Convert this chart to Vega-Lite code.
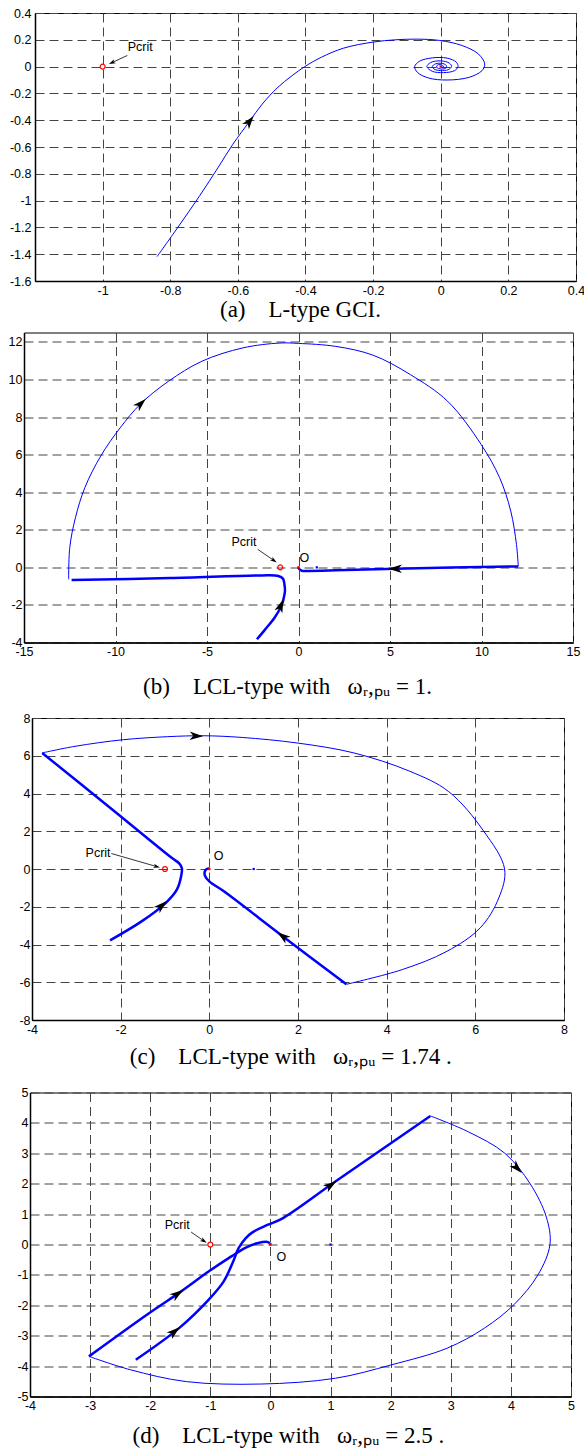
{
  "$schema": "https://vega.github.io/schema/vega-lite/v6.json",
  "background": "white",
  "padding": {"left": 0, "top": 6, "right": 0, "bottom": 0},
  "spacing": 9.5,
  "bounds": "full",
  "config": {
    "view": {"stroke": "#000", "strokeWidth": 1},
    "axis": {
      "grid": true, "gridDash": [9, 5], "gridColor": "#444", "gridWidth": 1,
      "ticks": false, "domain": true, "domainColor": "#000", "domainWidth": 1.5,
      "labelFont": "Liberation Sans", "labelFontSize": 12.5, "labelColor": "#000",
      "labelFlush": false, "labelOverlap": false, "labelPadding": 3,
      "labelExpr": "datum.value + ''",
      "titleFont": "Liberation Serif", "titleFontSize": 23, "titleFontWeight": "normal", "titleColor": "#000"
    }
  },
  "datasets": {
    "a": [
      {"k":"thin","i":1,"x":-0.839,"y":-1.418},{"k":"thin","i":2,"x":-0.779,"y":-1.205},{"k":"thin","i":3,"x":-0.714,"y":-0.968},
      {"k":"thin","i":4,"x":-0.659,"y":-0.755},{"k":"thin","i":5,"x":-0.615,"y":-0.58},{"k":"thin","i":6,"x":-0.566,"y":-0.41},
      {"k":"thin","i":7,"x":-0.528,"y":-0.28},{"k":"thin","i":8,"x":-0.484,"y":-0.16},{"k":"thin","i":9,"x":-0.44,"y":-0.068},
      {"k":"thin","i":10,"x":-0.402,"y":0},{"k":"thin","i":11,"x":-0.353,"y":0.07},{"k":"thin","i":12,"x":-0.287,"y":0.138},
      {"k":"thin","i":13,"x":-0.2,"y":0.183},{"k":"thin","i":14,"x":-0.134,"y":0.2},{"k":"thin","i":15,"x":-0.069,"y":0.205},
      {"k":"thin","i":16,"x":-0.003,"y":0.195},{"k":"thin","i":17,"x":0.062,"y":0.158},{"k":"thin","i":18,"x":0.111,"y":0.095},
      {"k":"thin","i":19,"x":0.13,"y":0.02},{"k":"thin","i":20,"x":0.122,"y":-0.03},{"k":"thin","i":21,"x":0.084,"y":-0.08},
      {"k":"thin","i":22,"x":0.019,"y":-0.1},{"k":"thin","i":23,"x":-0.036,"y":-0.085},{"k":"thin","i":24,"x":-0.069,"y":-0.043},
      {"k":"thin","i":25,"x":-0.077,"y":0},{"k":"thin","i":26,"x":-0.063,"y":0.04},{"k":"thin","i":27,"x":-0.025,"y":0.065},
      {"k":"thin","i":28,"x":0.019,"y":0.063},{"k":"thin","i":29,"x":0.046,"y":0.033},{"k":"thin","i":30,"x":0.051,"y":0},
      {"k":"thin","i":31,"x":0.041,"y":-0.03},{"k":"thin","i":32,"x":0.008,"y":-0.045},{"k":"thin","i":33,"x":-0.025,"y":-0.035},
      {"k":"thin","i":34,"x":-0.041,"y":0},{"k":"thin","i":35,"x":-0.03,"y":0.03},{"k":"thin","i":36,"x":0,"y":0.043},
      {"k":"thin","i":37,"x":0.026,"y":0.025},{"k":"thin","i":38,"x":0.032,"y":0},{"k":"thin","i":39,"x":0.022,"y":-0.023},
      {"k":"thin","i":40,"x":0,"y":-0.03},{"k":"thin","i":41,"x":-0.02,"y":-0.018},{"k":"thin","i":42,"x":-0.025,"y":0},
      {"k":"thin","i":43,"x":-0.016,"y":0.02},{"k":"thin","i":44,"x":0.002,"y":0.025},{"k":"thin","i":45,"x":0.016,"y":0.01},
      {"k":"thin","i":46,"x":0.016,"y":-0.01},{"k":"thin","i":47,"x":0.002,"y":-0.018},{"k":"thin","i":48,"x":-0.012,"y":-0.005},
      {"k":"thin","i":49,"x":-0.009,"y":0.013},{"k":"thin","i":50,"x":0.005,"y":0.01},{"k":"thin","i":51,"x":0.008,"y":-0.005},
      {"k":"thin","i":52,"x":0,"y":0},
      {"k":"arrow","x":-0.566,"y":-0.41,"dir":37},
      {"k":"pcrit","x":-1,"y":0},
      {"k":"origin","x":0,"y":0},
      {"k":"label","x":-0.889,"y":0.145,"t":"Pcrit"},
      {"k":"pointer","x":-0.927,"y":0.083,"x2":-0.972,"y2":0.03},
      {"k":"phead","x":-0.972,"y":0.03,"dir":245}
    ],
    "b": [
      {"k":"thin","i":1,"x":-12.56,"y":-0.64},{"k":"thin","i":2,"x":-12.5,"y":1.05},{"k":"thin","i":3,"x":-12.19,"y":2.64},
      {"k":"thin","i":4,"x":-11.68,"y":4.23},{"k":"thin","i":5,"x":-10.81,"y":5.92},{"k":"thin","i":6,"x":-9.75,"y":7.42},
      {"k":"thin","i":7,"x":-8.63,"y":8.7},{"k":"thin","i":8,"x":-7.11,"y":9.9},{"k":"thin","i":9,"x":-5.28,"y":10.97},
      {"k":"thin","i":10,"x":-3.04,"y":11.68},{"k":"thin","i":11,"x":-1.01,"y":11.94},{"k":"thin","i":12,"x":0,"y":11.92},
      {"k":"thin","i":13,"x":2.04,"y":11.76},{"k":"thin","i":14,"x":4.08,"y":11.29},{"k":"thin","i":15,"x":6.11,"y":10.26},
      {"k":"thin","i":16,"x":8.15,"y":8.84},{"k":"thin","i":17,"x":9.98,"y":6.54},{"k":"thin","i":18,"x":10.99,"y":4.77},
      {"k":"thin","i":19,"x":11.6,"y":2.99},{"k":"thin","i":20,"x":11.91,"y":1.22},{"k":"thin","i":21,"x":12.01,"y":0.07},
      {"k":"thick","s":1,"i":1,"x":12.01,"y":0.05},{"k":"thick","s":1,"i":2,"x":5.3,"y":-0.07},{"k":"thick","s":1,"i":3,"x":2.04,"y":-0.16},
      {"k":"thick","s":1,"i":4,"x":0.5,"y":-0.19},{"k":"thick","s":1,"i":5,"x":0.18,"y":-0.18},{"k":"thick","s":1,"i":6,"x":0.04,"y":-0.09},
      {"k":"thick","s":1,"i":7,"x":0,"y":0},
      {"k":"thick","s":2,"i":1,"x":-12.4,"y":-0.67},{"k":"thick","s":2,"i":2,"x":-7,"y":-0.57},{"k":"thick","s":2,"i":3,"x":-2.02,"y":-0.43},
      {"k":"thick","s":2,"i":4,"x":-1.1,"y":-0.46},{"k":"thick","s":2,"i":5,"x":-0.85,"y":-0.6},{"k":"thick","s":2,"i":6,"x":-0.77,"y":-0.9},
      {"k":"thick","s":2,"i":7,"x":-0.74,"y":-1.26},{"k":"thick","s":2,"i":8,"x":-0.8,"y":-1.6},{"k":"thick","s":2,"i":9,"x":-0.9,"y":-1.97},
      {"k":"thick","s":2,"i":10,"x":-1.31,"y":-2.68},{"k":"thick","s":2,"i":11,"x":-1.82,"y":-3.3},{"k":"thick","s":2,"i":12,"x":-2.27,"y":-3.83},
      {"k":"arrow","x":-8.63,"y":8.7,"dir":46},
      {"k":"arrow","x":5.3,"y":-0.07,"dir":270},
      {"k":"arrow","x":-0.97,"y":-2.05,"dir":22},
      {"k":"pcrit","x":-1,"y":0},
      {"k":"origin","x":0,"y":0},
      {"k":"unit","x":1,"y":0},
      {"k":"label","x":-2.98,"y":1.36,"t":"Pcrit"},
      {"k":"label","x":0.32,"y":0.48,"t":"O"},
      {"k":"pointer","x":-2.23,"y":0.96,"x2":-1.35,"y2":0.37},
      {"k":"phead","x":-1.35,"y":0.37,"dir":125}
    ],
    "c": [
      {"k":"thin","i":1,"x":-3.77,"y":6.15},{"k":"thin","i":2,"x":-3.03,"y":6.5},{"k":"thin","i":3,"x":-1.94,"y":6.85},
      {"k":"thin","i":4,"x":-0.94,"y":7.01},{"k":"thin","i":5,"x":-0.14,"y":7.06},{"k":"thin","i":6,"x":0.74,"y":6.97},
      {"k":"thin","i":7,"x":2.0,"y":6.67},{"k":"thin","i":8,"x":3.26,"y":6.15},{"k":"thin","i":9,"x":4.52,"y":5.18},
      {"k":"thin","i":10,"x":5.4,"y":4.1},{"k":"thin","i":11,"x":6.19,"y":2.0},{"k":"thin","i":12,"x":6.66,"y":0},
      {"k":"thin","i":13,"x":6.53,"y":-1.53},{"k":"thin","i":14,"x":6.11,"y":-3.12},{"k":"thin","i":15,"x":5.36,"y":-4.36},
      {"k":"thin","i":16,"x":4.35,"y":-5.33},{"k":"thin","i":17,"x":3.09,"y":-6.11},
      {"k":"thick","s":1,"i":1,"x":3.09,"y":-6.11},{"k":"thick","s":1,"i":2,"x":1.66,"y":-3.57},{"k":"thick","s":1,"i":3,"x":0.32,"y":-1.17},
      {"k":"thick","s":1,"i":4,"x":0.0,"y":-0.66},{"k":"thick","s":1,"i":5,"x":-0.1,"y":-0.35},{"k":"thick","s":1,"i":6,"x":-0.1,"y":-0.12},
      {"k":"thick","s":1,"i":7,"x":-0.06,"y":0.0},{"k":"thick","s":1,"i":8,"x":0,"y":0.02},
      {"k":"thick","s":2,"i":1,"x":-3.77,"y":6.15},{"k":"thick","s":2,"i":2,"x":-2.19,"y":3.15},{"k":"thick","s":2,"i":3,"x":-0.85,"y":0.59},
      {"k":"thick","s":2,"i":4,"x":-0.68,"y":0.3},{"k":"thick","s":2,"i":5,"x":-0.62,"y":0.05},{"k":"thick","s":2,"i":6,"x":-0.63,"y":-0.3},
      {"k":"thick","s":2,"i":7,"x":-0.73,"y":-1.08},{"k":"thick","s":2,"i":8,"x":-0.98,"y":-1.79},{"k":"thick","s":2,"i":9,"x":-1.52,"y":-2.76},
      {"k":"thick","s":2,"i":10,"x":-2.24,"y":-3.78},
      {"k":"arrow","x":-0.3,"y":7.05,"dir":92},
      {"k":"arrow","x":1.66,"y":-3.57,"dir":307},
      {"k":"arrow","x":-1.08,"y":-1.95,"dir":48},
      {"k":"pcrit","x":-1,"y":0},
      {"k":"origin","x":0,"y":0},
      {"k":"unit","x":1,"y":0},
      {"k":"label","x":-2.51,"y":0.86,"t":"Pcrit"},
      {"k":"label","x":0.21,"y":0.68,"t":"O"},
      {"k":"pointer","x":-2.21,"y":0.82,"x2":-1.19,"y2":0.13},
      {"k":"phead","x":-1.19,"y":0.13,"dir":106}
    ],
    "d": [
      {"k":"thin","i":1,"x":-3.02,"y":-3.68},{"k":"thin","i":2,"x":-2.33,"y":-4.12},{"k":"thin","i":3,"x":-1.4,"y":-4.51},
      {"k":"thin","i":4,"x":-0.16,"y":-4.59},{"k":"thin","i":5,"x":1.08,"y":-4.4},{"k":"thin","i":6,"x":2.01,"y":-3.96},
      {"k":"thin","i":7,"x":2.94,"y":-3.41},{"k":"thin","i":8,"x":3.56,"y":-2.75},{"k":"thin","i":9,"x":4.05,"y":-1.98},
      {"k":"thin","i":10,"x":4.45,"y":-1.0},{"k":"thin","i":11,"x":4.65,"y":0},{"k":"thin","i":12,"x":4.59,"y":0.9},
      {"k":"thin","i":13,"x":4.32,"y":2.0},{"k":"thin","i":14,"x":3.9,"y":3.0},{"k":"thin","i":15,"x":3.3,"y":3.7},
      {"k":"thin","i":16,"x":2.66,"y":4.23},
      {"k":"thick","s":1,"i":1,"x":-2.24,"y":-3.79},{"k":"thick","s":1,"i":2,"x":-1.52,"y":-2.75},{"k":"thick","s":1,"i":3,"x":-1.03,"y":-1.82},
      {"k":"thick","s":1,"i":4,"x":-0.78,"y":-1.22},{"k":"thick","s":1,"i":5,"x":-0.62,"y":-0.56},{"k":"thick","s":1,"i":6,"x":-0.53,"y":-0.12},
      {"k":"thick","s":1,"i":7,"x":-0.41,"y":0.21},{"k":"thick","s":1,"i":8,"x":-0.3,"y":0.4},{"k":"thick","s":1,"i":9,"x":-0.04,"y":0.65},
      {"k":"thick","s":1,"i":10,"x":0.21,"y":0.87},{"k":"thick","s":1,"i":11,"x":1.08,"y":2.07},{"k":"thick","s":1,"i":12,"x":2.66,"y":4.23},
      {"k":"thick","s":2,"i":1,"x":-3.02,"y":-3.68},{"k":"thick","s":2,"i":2,"x":-2.02,"y":-2.26},{"k":"thick","s":2,"i":3,"x":-1.49,"y":-1.55},
      {"k":"thick","s":2,"i":4,"x":-1.03,"y":-0.89},{"k":"thick","s":2,"i":5,"x":-0.65,"y":-0.39},{"k":"thick","s":2,"i":6,"x":-0.41,"y":-0.1},
      {"k":"thick","s":2,"i":7,"x":-0.22,"y":0.04},{"k":"thick","s":2,"i":8,"x":-0.04,"y":0.08},{"k":"thick","s":2,"i":9,"x":0,"y":0},
      {"k":"arrow","x":4.1,"y":2.52,"dir":136},
      {"k":"arrow","x":1.0,"y":1.95,"dir":55},
      {"k":"arrow","x":-1.6,"y":-2.87,"dir":50},
      {"k":"arrow","x":-1.55,"y":-1.63,"dir":55},
      {"k":"pcrit","x":-1,"y":0},
      {"k":"origin","x":0,"y":0},
      {"k":"unit","x":1,"y":0},
      {"k":"label","x":-1.55,"y":0.65,"t":"Pcrit"},
      {"k":"label","x":0.18,"y":-0.42,"t":"O"},
      {"k":"pointer","x":-1.32,"y":0.41,"x2":-1.11,"y2":0.12},
      {"k":"phead","x":-1.11,"y":0.12,"dir":123}
    ]
  },
  "vconcat": [
    {"spacing": 0, "hconcat": [
    {"width": 7.5, "height": 1, "data": {"values": []}, "mark": "point", "view": {"stroke": null}},
    {
      "width": 541, "height": 268,
      "data": {"name": "a"},
      "encoding": {
        "x": {"field": "x", "type": "quantitative", "scale": {"domain": [-1.2, 0.4], "nice": false, "zero": false},
              "axis": {"values": [-1, -0.8, -0.6, -0.4, -0.2, 0, 0.2, 0.4], "title": "(a)\u00a0\u00a0\u00a0\u00a0L-type GCI.", "titlePadding": 2, "titleX": 184.5, "titleAlign": "left"}},
        "y": {"field": "y", "type": "quantitative", "scale": {"domain": [-1.6, 0.4], "nice": false, "zero": false},
              "axis": {"values": [-1.6, -1.4, -1.2, -1, -0.8, -0.6, -0.4, -0.2, 0, 0.2, 0.4], "title": null, "labelPadding": 4}}
      },
      "layer": [
        {"transform": [{"filter": "datum.k === 'thin'"}], "mark": {"type": "line", "color": "#0000ff", "strokeWidth": 1, "interpolate": "catmull-rom"}, "encoding": {"order": {"field": "i", "type": "quantitative"}}},
        {"transform": [{"filter": "datum.k === 'arrow'"}], "mark": {"type": "point", "shape": "M0,-1L0.6,0.9L0,0.4L-0.6,0.9Z", "filled": true, "color": "#000", "opacity": 1, "size": 200}, "encoding": {"angle": {"field": "dir", "type": "quantitative", "scale": null}}},
        {"transform": [{"filter": "datum.k === 'pointer'"}], "mark": {"type": "rule", "color": "#000", "strokeWidth": 0.8}, "encoding": {"x2": {"field": "x2"}, "y2": {"field": "y2"}}},
        {"transform": [{"filter": "datum.k === 'phead'"}], "mark": {"type": "point", "shape": "M0,-1L0.6,0.9L0,0.4L-0.6,0.9Z", "filled": true, "color": "#000", "opacity": 1, "size": 50}, "encoding": {"angle": {"field": "dir", "type": "quantitative", "scale": null}}},
        {"transform": [{"filter": "datum.k === 'pcrit'"}], "mark": {"type": "point", "shape": "circle", "filled": false, "color": "#ff0000", "size": 24, "strokeWidth": 1.2, "opacity": 1}},
        {"transform": [{"filter": "datum.k === 'origin'"}], "mark": {"type": "point", "shape": "square", "filled": true, "color": "#ff0000", "size": 6, "opacity": 1}},
        {"transform": [{"filter": "datum.k === 'label'"}], "mark": {"type": "text", "font": "Liberation Sans", "fontSize": 12.5, "color": "#000", "align": "center", "baseline": "middle"}, "encoding": {"text": {"field": "t"}}}
      ]
    }]},
    {"spacing": 0, "hconcat": [
    {"width": 6.1, "height": 1, "data": {"values": []}, "mark": "point", "view": {"stroke": null}},
    {
      "width": 549, "height": 310,
      "data": {"name": "b"},
      "encoding": {
        "x": {"field": "x", "type": "quantitative", "scale": {"domain": [-15, 15], "nice": false, "zero": false},
              "axis": {"values": [-15, -10, -5, 0, 5, 10, 15], "title": "(b)\u00a0\u00a0\u00a0\u00a0LCL-type with\u00a0\u00a0\u00a0ω\u1d63,\u209a\u1d64 = 1.", "titlePadding": 17, "titleX": 118.6, "titleAlign": "left"}},
        "y": {"field": "y", "type": "quantitative", "scale": {"domain": [-4, 12.5], "nice": false, "zero": false},
              "axis": {"values": [-4, -2, 0, 2, 4, 6, 8, 10, 12], "title": null, "labelPadding": 2}}
      },
      "layer": [
        {"transform": [{"filter": "datum.k === 'thin'"}], "mark": {"type": "line", "color": "#0000ff", "strokeWidth": 1, "interpolate": "catmull-rom"}, "encoding": {"order": {"field": "i", "type": "quantitative"}}},
        {"transform": [{"filter": "datum.k === 'thick'"}], "mark": {"type": "line", "color": "#0000ff", "strokeWidth": 2.5, "interpolate": "catmull-rom"}, "encoding": {"detail": {"field": "s", "type": "nominal"}, "order": {"field": "i", "type": "quantitative"}}},
        {"transform": [{"filter": "datum.k === 'arrow'"}], "mark": {"type": "point", "shape": "M0,-1L0.6,0.9L0,0.4L-0.6,0.9Z", "filled": true, "color": "#000", "opacity": 1, "size": 200}, "encoding": {"angle": {"field": "dir", "type": "quantitative", "scale": null}}},
        {"transform": [{"filter": "datum.k === 'pointer'"}], "mark": {"type": "rule", "color": "#000", "strokeWidth": 0.8}, "encoding": {"x2": {"field": "x2"}, "y2": {"field": "y2"}}},
        {"transform": [{"filter": "datum.k === 'phead'"}], "mark": {"type": "point", "shape": "M0,-1L0.6,0.9L0,0.4L-0.6,0.9Z", "filled": true, "color": "#000", "opacity": 1, "size": 50}, "encoding": {"angle": {"field": "dir", "type": "quantitative", "scale": null}}},
        {"transform": [{"filter": "datum.k === 'pcrit'"}], "mark": {"type": "point", "shape": "circle", "filled": false, "color": "#ff0000", "size": 24, "strokeWidth": 1.2, "opacity": 1}},
        {"transform": [{"filter": "datum.k === 'origin'"}], "mark": {"type": "point", "shape": "square", "filled": true, "color": "#ff0000", "size": 6, "opacity": 1}},
        {"transform": [{"filter": "datum.k === 'unit'"}], "mark": {"type": "point", "shape": "square", "filled": true, "color": "#0000ff", "size": 5, "opacity": 1}},
        {"transform": [{"filter": "datum.k === 'label'"}], "mark": {"type": "text", "font": "Liberation Sans", "fontSize": 12.5, "color": "#000", "align": "center", "baseline": "middle"}, "encoding": {"text": {"field": "t"}}}
      ]
    }]},
    {"spacing": 0, "hconcat": [
    {"width": 17.9, "height": 1, "data": {"values": []}, "mark": "point", "view": {"stroke": null}},
    {
      "width": 532, "height": 302,
      "title": {"text": "\u00a0", "fontSize": 1, "offset": 2},
      "data": {"name": "c"},
      "encoding": {
        "x": {"field": "x", "type": "quantitative", "scale": {"domain": [-4, 8], "nice": false, "zero": false},
              "axis": {"values": [-4, -2, 0, 2, 4, 6, 8], "title": "(c)\u00a0\u00a0\u00a0\u00a0LCL-type with\u00a0\u00a0\u00a0ω\u1d63,\u209a\u1d64 = 1.74 .", "titlePadding": 10.2, "titleX": 97.3, "titleAlign": "left"}},
        "y": {"field": "y", "type": "quantitative", "scale": {"domain": [-8, 8], "nice": false, "zero": false},
              "axis": {"values": [-8, -6, -4, -2, 0, 2, 4, 6, 8], "title": null, "labelPadding": 2}}
      },
      "layer": [
        {"transform": [{"filter": "datum.k === 'thin'"}], "mark": {"type": "line", "color": "#0000ff", "strokeWidth": 1, "interpolate": "catmull-rom"}, "encoding": {"order": {"field": "i", "type": "quantitative"}}},
        {"transform": [{"filter": "datum.k === 'thick'"}], "mark": {"type": "line", "color": "#0000ff", "strokeWidth": 2.5, "interpolate": "catmull-rom"}, "encoding": {"detail": {"field": "s", "type": "nominal"}, "order": {"field": "i", "type": "quantitative"}}},
        {"transform": [{"filter": "datum.k === 'arrow'"}], "mark": {"type": "point", "shape": "M0,-1L0.6,0.9L0,0.4L-0.6,0.9Z", "filled": true, "color": "#000", "opacity": 1, "size": 200}, "encoding": {"angle": {"field": "dir", "type": "quantitative", "scale": null}}},
        {"transform": [{"filter": "datum.k === 'pointer'"}], "mark": {"type": "rule", "color": "#000", "strokeWidth": 0.8}, "encoding": {"x2": {"field": "x2"}, "y2": {"field": "y2"}}},
        {"transform": [{"filter": "datum.k === 'phead'"}], "mark": {"type": "point", "shape": "M0,-1L0.6,0.9L0,0.4L-0.6,0.9Z", "filled": true, "color": "#000", "opacity": 1, "size": 50}, "encoding": {"angle": {"field": "dir", "type": "quantitative", "scale": null}}},
        {"transform": [{"filter": "datum.k === 'pcrit'"}], "mark": {"type": "point", "shape": "circle", "filled": false, "color": "#ff0000", "size": 24, "strokeWidth": 1.2, "opacity": 1}},
        {"transform": [{"filter": "datum.k === 'origin'"}], "mark": {"type": "point", "shape": "square", "filled": true, "color": "#ff0000", "size": 6, "opacity": 1}},
        {"transform": [{"filter": "datum.k === 'unit'"}], "mark": {"type": "point", "shape": "square", "filled": true, "color": "#0000ff", "size": 5, "opacity": 1}},
        {"transform": [{"filter": "datum.k === 'label'"}], "mark": {"type": "text", "font": "Liberation Sans", "fontSize": 12.5, "color": "#000", "align": "center", "baseline": "middle"}, "encoding": {"text": {"field": "t"}}}
      ]
    }]},
    {"spacing": 0, "hconcat": [
    {"width": 15.9, "height": 1, "data": {"values": []}, "mark": "point", "view": {"stroke": null}},
    {
      "width": 541, "height": 304,
      "title": {"text": "\u00a0", "fontSize": 1, "offset": 5.5},
      "data": {"name": "d"},
      "encoding": {
        "x": {"field": "x", "type": "quantitative", "scale": {"domain": [-4, 5], "nice": false, "zero": false},
              "axis": {"values": [-4, -3, -2, -1, 0, 1, 2, 3, 4, 5], "title": "(d)\u00a0\u00a0\u00a0\u00a0LCL-type with\u00a0\u00a0\u00a0ω\u1d63,\u209a\u1d64 = 2.5 .", "titlePadding": 12, "titleX": 102, "titleAlign": "left"}},
        "y": {"field": "y", "type": "quantitative", "scale": {"domain": [-5, 5], "nice": false, "zero": false},
              "axis": {"values": [-5, -4, -3, -2, -1, 0, 1, 2, 3, 4, 5], "title": null, "labelPadding": 2}}
      },
      "layer": [
        {"transform": [{"filter": "datum.k === 'thin'"}], "mark": {"type": "line", "color": "#0000ff", "strokeWidth": 1, "interpolate": "catmull-rom"}, "encoding": {"order": {"field": "i", "type": "quantitative"}}},
        {"transform": [{"filter": "datum.k === 'thick'"}], "mark": {"type": "line", "color": "#0000ff", "strokeWidth": 2.5, "interpolate": "catmull-rom"}, "encoding": {"detail": {"field": "s", "type": "nominal"}, "order": {"field": "i", "type": "quantitative"}}},
        {"transform": [{"filter": "datum.k === 'arrow'"}], "mark": {"type": "point", "shape": "M0,-1L0.6,0.9L0,0.4L-0.6,0.9Z", "filled": true, "color": "#000", "opacity": 1, "size": 200}, "encoding": {"angle": {"field": "dir", "type": "quantitative", "scale": null}}},
        {"transform": [{"filter": "datum.k === 'pointer'"}], "mark": {"type": "rule", "color": "#000", "strokeWidth": 0.8}, "encoding": {"x2": {"field": "x2"}, "y2": {"field": "y2"}}},
        {"transform": [{"filter": "datum.k === 'phead'"}], "mark": {"type": "point", "shape": "M0,-1L0.6,0.9L0,0.4L-0.6,0.9Z", "filled": true, "color": "#000", "opacity": 1, "size": 50}, "encoding": {"angle": {"field": "dir", "type": "quantitative", "scale": null}}},
        {"transform": [{"filter": "datum.k === 'pcrit'"}], "mark": {"type": "point", "shape": "circle", "filled": false, "color": "#ff0000", "size": 24, "strokeWidth": 1.2, "opacity": 1}},
        {"transform": [{"filter": "datum.k === 'origin'"}], "mark": {"type": "point", "shape": "square", "filled": true, "color": "#ff0000", "size": 6, "opacity": 1}},
        {"transform": [{"filter": "datum.k === 'unit'"}], "mark": {"type": "point", "shape": "square", "filled": true, "color": "#0000ff", "size": 5, "opacity": 1}},
        {"transform": [{"filter": "datum.k === 'label'"}], "mark": {"type": "text", "font": "Liberation Sans", "fontSize": 12.5, "color": "#000", "align": "center", "baseline": "middle"}, "encoding": {"text": {"field": "t"}}}
      ]
    }]}
  ]
}
